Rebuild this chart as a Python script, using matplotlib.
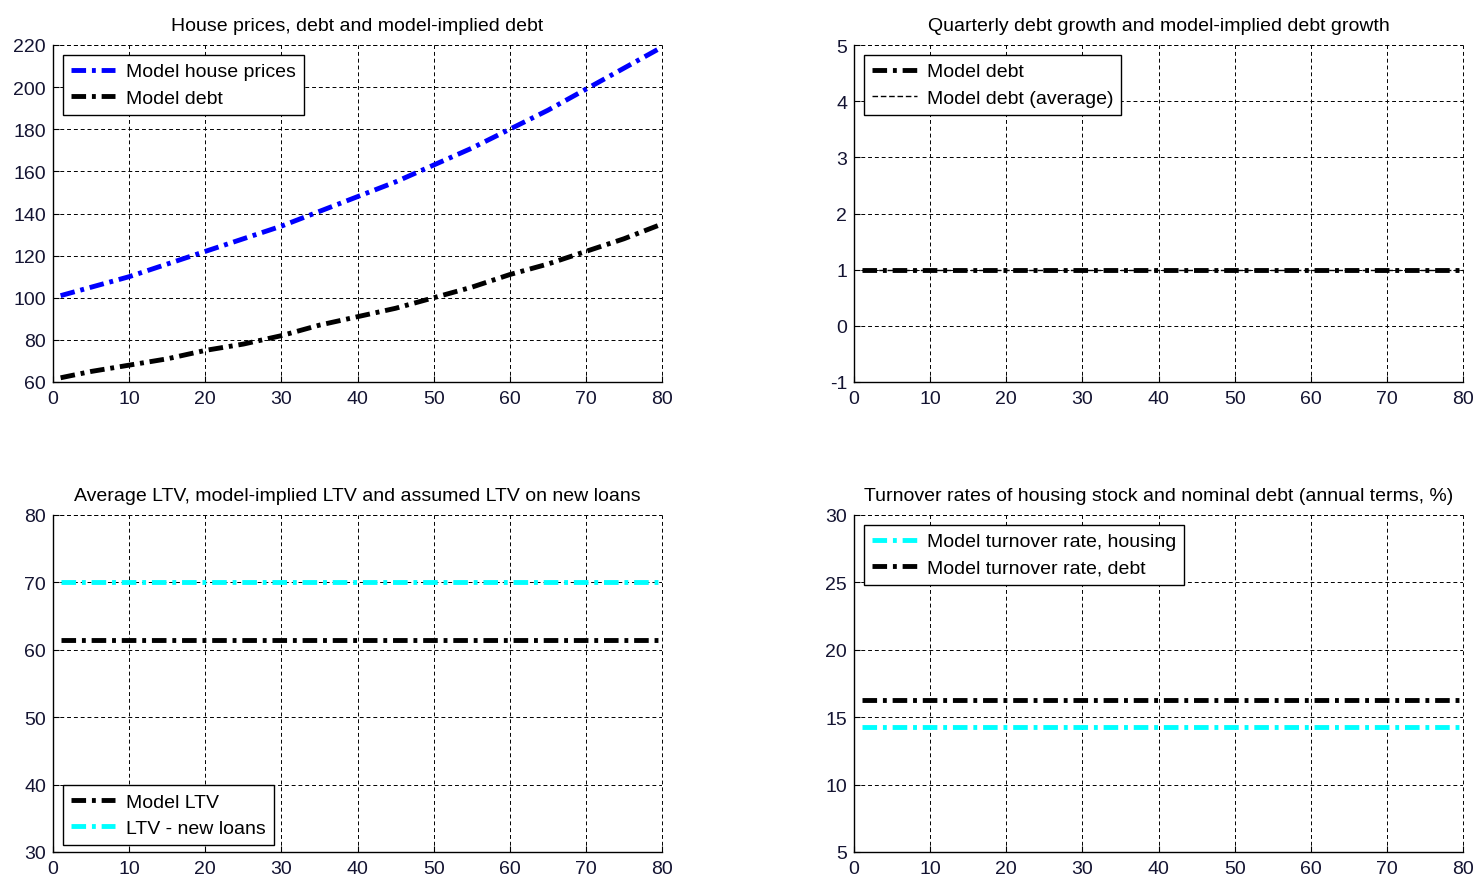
import matplotlib
matplotlib.use("Agg")
import matplotlib.pyplot as plt

# Values
quarters = [1, 5, 10, 15, 20, 25, 30, 35, 40, 45, 50, 55, 60, 65, 70, 75, 80]
house_prices = [101, 105, 110, 116, 122, 128, 134, 141, 148, 155, 163, 171, 180, 189, 199, 209, 219]
model_debt = [62, 65, 68, 71, 75, 78, 82, 87, 91, 95, 100, 105, 111, 116, 122, 128, 135]

flat_x = [1, 80]
debt_growth = [1.0, 1.0]
debt_growth_avg = [1.0, 1.0]
ltv_model = [61.5, 61.5]
ltv_new = [70.0, 70.0]
turnover_housing = [14.3, 14.3]
turnover_debt = [16.3, 16.3]

plt.rcParams["font.family"] = ["Liberation Sans", "DejaVu Sans"]
plt.rcParams["axes.unicode_minus"] = False

LW = 3.5
DASHDOT = (0, (3.0, 1.2, 0.8, 1.2))
GRID_LS = (0, (4, 3))
GRID_LW = 0.7
TICK_COLOR = "#141432"

fig = plt.figure(figsize=(14.77, 8.78), dpi=100)
lefts = [53 / 1477, 854 / 1477]
w = 609 / 1477
h = 337 / 878
bottoms = [(878 - 383) / 878, (878 - 853) / 878]

# legend offsets from the axes corner, in axes fractions (~10 px / ~7 px)
PAD_X = 10 / 609
PAD_TOP = 10 / 337
PAD_BOTTOM = 7 / 337


def style_axes(ax, ylim, yticks, title):
    ax.set_xlim(0, 80)
    ax.set_xticks(range(0, 81, 10))
    ax.set_ylim(*ylim)
    ax.set_yticks(yticks)
    ax.spines["top"].set_visible(False)
    ax.spines["right"].set_visible(False)
    ax.spines["left"].set_linewidth(1.0)
    ax.spines["bottom"].set_linewidth(1.0)
    ax.grid(True, color="black", linestyle=GRID_LS, linewidth=GRID_LW)
    # dashed box on top/right like MATLAB grid
    ax.axhline(ylim[1], color="black", linestyle=GRID_LS, linewidth=GRID_LW, clip_on=False)
    ax.axvline(80, color="black", linestyle=GRID_LS, linewidth=GRID_LW, clip_on=False)
    ax.tick_params(direction="in", length=4, labelsize=14, colors="black",
                   labelcolor=TICK_COLOR)
    ax.tick_params(axis="x", pad=6)
    ax.tick_params(axis="y", pad=5)
    ax.set_title(title, fontsize=14, pad=10.5)


def add_legend(ax, loc):
    anchor = (PAD_X, 1 - PAD_TOP) if loc == "upper left" else (PAD_X, PAD_BOTTOM)
    leg = ax.legend(loc=loc, bbox_to_anchor=anchor, fontsize=14, fancybox=False,
                    framealpha=1, edgecolor="black", handlelength=2.3, borderpad=0.4,
                    labelspacing=0.46, handletextpad=0.55, borderaxespad=0)
    leg.get_frame().set_linewidth(1.0)


# Top left
ax1 = fig.add_axes([lefts[0], bottoms[0], w, h])
ax1.plot(quarters, house_prices, color="blue", lw=LW, linestyle=DASHDOT, label="Model house prices")
ax1.plot(quarters, model_debt, color="black", lw=LW, linestyle=DASHDOT, label="Model debt")
style_axes(ax1, (60, 220), range(60, 221, 20), "House prices, debt and model-implied debt")
add_legend(ax1, "upper left")

# Top right
ax2 = fig.add_axes([lefts[1], bottoms[0], w, h])
ax2.plot(flat_x, debt_growth, color="black", lw=LW, linestyle=DASHDOT, label="Model debt")
ax2.plot(flat_x, debt_growth_avg, color="black", lw=1, linestyle=(0, (4, 2)), label="Model debt (average)")
style_axes(ax2, (-1, 5), range(-1, 6), "Quarterly debt growth and model-implied debt growth")
add_legend(ax2, "upper left")

# Bottom left
ax3 = fig.add_axes([lefts[0], bottoms[1], w, h])
ax3.plot(flat_x, ltv_model, color="black", lw=LW, linestyle=DASHDOT, label="Model LTV")
ax3.plot(flat_x, ltv_new, color="cyan", lw=LW, linestyle=DASHDOT, label="LTV - new loans")
style_axes(ax3, (30, 80), range(30, 81, 10), "Average LTV, model-implied LTV and assumed LTV on new loans")
add_legend(ax3, "lower left")

# Bottom right
ax4 = fig.add_axes([lefts[1], bottoms[1], w, h])
ax4.plot(flat_x, turnover_housing, color="cyan", lw=LW, linestyle=DASHDOT, label="Model turnover rate, housing")
ax4.plot(flat_x, turnover_debt, color="black", lw=LW, linestyle=DASHDOT, label="Model turnover rate, debt")
style_axes(ax4, (5, 30), range(5, 31, 5), "Turnover rates of housing stock and nominal debt (annual terms, %)")
add_legend(ax4, "upper left")

fig.savefig("out.png", dpi=100)
